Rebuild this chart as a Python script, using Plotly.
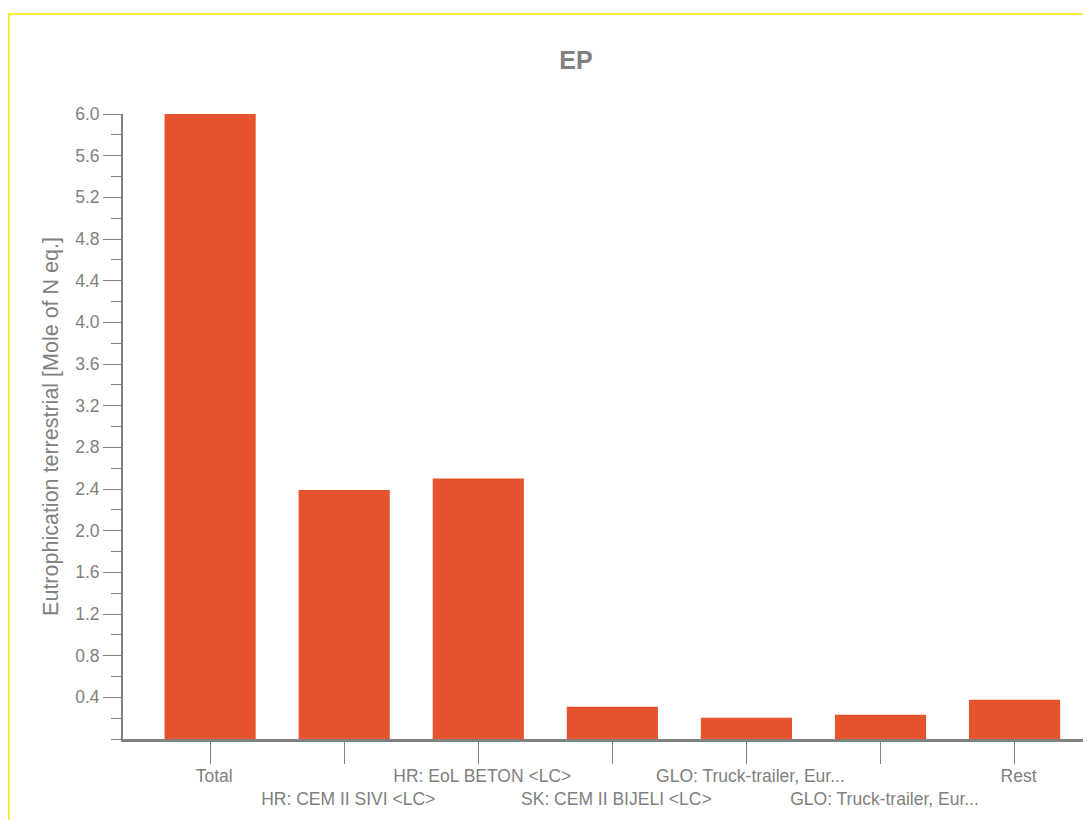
import plotly.graph_objects as go

categories = [
    "Total",
    "HR: CEM II SIVI <LC>",
    "HR: EoL BETON <LC>",
    "SK: CEM II BIJELI <LC>",
    "GLO: Truck-trailer, Eur...",
    "GLO: Truck-trailer, Eur...",
    "Rest",
]
values = [6.01, 2.39, 2.50, 0.31, 0.205, 0.234, 0.378]
y_ticks = [0.4, 0.8, 1.2, 1.6, 2.0, 2.4, 2.8, 3.2, 3.6, 4.0, 4.4, 4.8, 5.2, 5.6, 6.0]

positions = list(range(len(categories)))
tick_text = [c if i % 2 == 0 else "<br>" + c for i, c in enumerate(categories)]

GRAY = "#808080"
FONT = "Liberation Sans, Arial, sans-serif"

W, H = 1083, 812
L, T, B = 115, 106, 81

fig = go.Figure()
fig.add_trace(go.Bar(
    x=positions, y=values, width=0.68,
    marker=dict(color="#E5532F", line=dict(width=0)),
    hoverinfo="skip",
))

plot_w = W - L
plot_h = H - T - B

fig.update_layout(
    width=W, height=H,
    margin=dict(l=L, r=0, t=T, b=B, pad=0),
    paper_bgcolor="white", plot_bgcolor="white",
    font=dict(family=FONT, color=GRAY, size=17.5),
    showlegend=False,
    title=dict(text="<b>EP</b>", xref="container", yref="container",
               x=568 / W, y=1 - 52 / H, xanchor="center", yanchor="middle",
               font=dict(size=25, color=GRAY, family=FONT)),
    xaxis=dict(
        range=[-0.65, 6.57], tickvals=positions, ticktext=tick_text,
        showline=True, linecolor=GRAY, linewidth=3,
        ticks="outside", ticklen=22, tickcolor=GRAY, tickwidth=1,
        showgrid=False, zeroline=False, tickangle=0,
        ticklabelstandoff=-3, ticklabelshift=4,
        tickfont=dict(size=17.5, color=GRAY, family=FONT),
    ),
    yaxis=dict(
        range=[0, 6.0], tickvals=y_ticks, tickformat=".1f",
        showline=True, linecolor=GRAY, linewidth=2,
        ticks="outside", ticklen=18, tickcolor=GRAY, tickwidth=1,
        minor=dict(dtick=0.2, tick0=0, ticks="outside", ticklen=10, tickcolor=GRAY, tickwidth=1),
        showgrid=False, zeroline=False,
        tickfont=dict(size=17.5, color=GRAY, family=FONT),
        title=dict(text="Eutrophication terrestrial [Mole of N eq.]",
                   font=dict(size=21.5, color=GRAY, family=FONT), standoff=11),
    ),
    shapes=[dict(type="rect", xref="paper", yref="paper",
                 x0=(0.75 - L) / plot_w, x1=1.2, y0=-0.3, y1=(plot_h + T - 6) / plot_h,
                 line=dict(color="#FFE600", width=1.5), layer="above")],
)

fig.write_html("out.html")
